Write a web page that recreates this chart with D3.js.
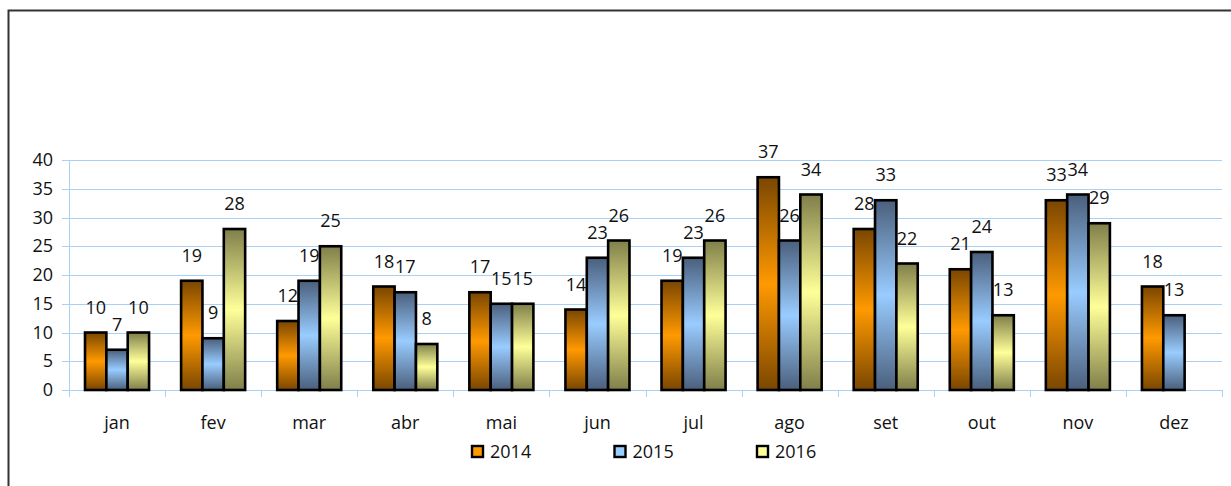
<!DOCTYPE html>
<html>
<head>
<meta charset="utf-8">
<script src="https://cdn.jsdelivr.net/npm/d3@7"></script>
<style>
  body { margin: 0; background: #fff; }
  svg { display: block; font-family: "Open Sans", sans-serif; }
</style>
</head>
<body>
<svg width="1231" height="486"></svg>
<script>
// data
const months = ["jan", "fev", "mar", "abr", "mai", "jun", "jul", "ago", "set", "out", "nov", "dez"];
const years = ["2014", "2015", "2016"];
const v2014 = [10, 19, 12, 18, 17, 14, 19, 37, 28, 21, 33, 18];
const v2015 = [7, 9, 19, 17, 15, 23, 23, 26, 33, 24, 34, 13];
const v2016 = [10, 28, 25, 8, 15, 26, 26, 34, 22, 13, 29, null];
const yTicks = [0, 5, 10, 15, 20, 25, 30, 35, 40];

const series = [v2014, v2015, v2016];
const colors = [
  { dark: "#7a4600", light: "#ff9900" },
  { dark: "#4a5f7c", light: "#99ccff" },
  { dark: "#7f7f4a", light: "#ffff99" }
];

const svg = d3.select("svg");

// frame (only top and left edges visible)
svg.append("path")
  .attr("d", "M8.5,1231 V10.5 H1231")
  .attr("fill", "none")
  .attr("stroke", "#333")
  .attr("stroke-width", 2);

const plotLeft = 69, plotRight = 1222, plotTop = 160, plotBottom = 390;

const x = d3.scaleBand().domain(months).range([plotLeft, plotRight]);
const y = d3.scaleLinear().domain([0, 40]).range([plotBottom, plotTop]);
const bw = x.bandwidth() / 4.5;
const inner = d3.scaleBand().domain(d3.range(3)).range([0, bw * 3]);

// gradients
const defs = svg.append("defs");
colors.forEach((c, i) => {
  const g = defs.append("linearGradient")
    .attr("id", "g" + i)
    .attr("x1", 0).attr("y1", 0).attr("x2", 0).attr("y2", 1);
  g.append("stop").attr("offset", "0%").attr("stop-color", c.dark);
  g.append("stop").attr("offset", "50%").attr("stop-color", c.light);
  g.append("stop").attr("offset", "100%").attr("stop-color", c.dark);
});

// gridlines
svg.append("g").selectAll("line")
  .data(yTicks)
  .join("line")
  .attr("x1", plotLeft - 7).attr("x2", plotRight)
  .attr("y1", d => Math.round(y(d)) + 0.5)
  .attr("y2", d => Math.round(y(d)) + 0.5)
  .attr("stroke", "#a9d0f5")
  .attr("stroke-width", 1);

// y axis line
svg.append("line")
  .attr("x1", plotLeft + 0.5).attr("x2", plotLeft + 0.5)
  .attr("y1", plotTop).attr("y2", plotBottom + 7)
  .attr("stroke", "#a9d0f5");

// category ticks
svg.append("g").selectAll("line")
  .data(months.concat(["end"]))
  .join("line")
  .attr("x1", (d, i) => Math.round(plotLeft + i * x.step()) + 0.5)
  .attr("x2", (d, i) => Math.round(plotLeft + i * x.step()) + 0.5)
  .attr("y1", plotBottom).attr("y2", plotBottom + 7)
  .attr("stroke", "#a9d0f5");

// y labels
svg.append("g").selectAll("text")
  .data(yTicks)
  .join("text")
  .attr("x", 53)
  .attr("y", d => y(d) + 6)
  .attr("text-anchor", "end")
  .attr("font-size", 18)
  .attr("fill", "#111")
  .text(d => d);

// x labels
svg.append("g").selectAll("text")
  .data(months)
  .join("text")
  .attr("x", d => x(d) + x.bandwidth() / 2)
  .attr("y", 429)
  .attr("text-anchor", "middle")
  .attr("font-size", 18)
  .attr("fill", "#111")
  .text(d => d);

// bars
const barData = [];
series.forEach((vals, s) => {
  vals.forEach((v, m) => {
    if (v != null) barData.push({ s, m: months[m], v });
  });
});

svg.append("g").selectAll("rect")
  .data(barData)
  .join("rect")
  .attr("x", d => x(d.m) + bw * 0.75 + inner(d.s))
  .attr("y", d => y(d.v))
  .attr("width", bw)
  .attr("height", d => y(0) - y(d.v))
  .attr("fill", d => "url(#g" + d.s + ")")
  .attr("stroke", "#000")
  .attr("stroke-width", 2.6);

// value labels
svg.append("g").selectAll("text")
  .data(barData)
  .join("text")
  .attr("x", d => x(d.m) + bw * 0.75 + inner(d.s) + bw / 2)
  .attr("y", d => y(d.v) - 19)
  .attr("text-anchor", "middle")
  .attr("font-size", 18)
  .attr("fill", "#111")
  .text(d => d.v);

// legend
const legend = svg.append("g").selectAll("g")
  .data(years)
  .join("g")
  .attr("transform", (d, i) => `translate(${472 + i * 142.5},446)`);
legend.append("rect")
  .attr("width", 11).attr("height", 11)
  .attr("fill", (d, i) => colors[i].light)
  .attr("stroke", "#000")
  .attr("stroke-width", 2.4);
legend.append("text")
  .attr("x", 18).attr("y", 12)
  .attr("font-size", 18)
  .attr("fill", "#111")
  .text(d => d);
</script>
</body>
</html>
